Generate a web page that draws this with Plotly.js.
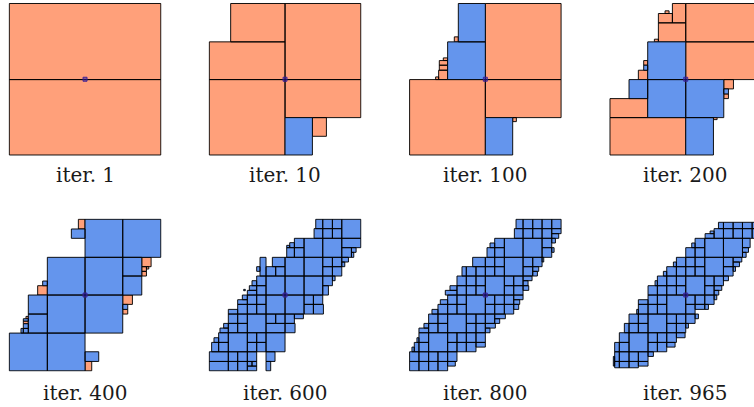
<!DOCTYPE html>
<html><head><meta charset="utf-8">
<script src="https://cdn.plot.ly/plotly-3.0.1.min.js"></script>
<style>html,body{margin:0;padding:0;background:#fff;}#chart{width:754px;height:407px;}</style>
</head><body><div id="chart"></div>
<script>
// Box data: [x0, x1, y0, y1] in picture units (panel = 0..454, y measured downward)
const iterations = [1, 10, 100, 200, 400, 600, 800, 965];
const centerPoint = [227, 227];

const p1_orange = [[0,454,0,228],[0,454,228,454]];
const p1_blue = [];

const p2_orange = [[227,454,0,228],[227,454,228,342],[64,227,0,115],[0,227,115,228],[0,227,228,454],[309,351,342,398]];
const p2_blue = [[227,309,342,454]];

const p3_orange = [[227,454,0,228],[227,454,228,342],[0,227,228,454],[309,320,342,354],[134,146,100,115],
  [87,114,200,228],[89,114,185,200],[89,114,171,185],[101,114,163,171],[78,87,220,228]];
const p3_blue = [[146,227,0,115],[114,227,115,228],[227,309,342,454]];

const p4_orange = [[227,454,0,115],[227,454,115,228],[187,227,0,58],[145,187,30,58],[165,177,22,30],[145,227,58,115],
  [133,145,107,115],[85,113,200,228],[101,113,171,185],[341,370,228,256],[341,355,271,285],[0,113,285,342],
  [0,227,342,454],[310,321,342,348]];
const p4_blue = [[113,227,115,228],[101,113,185,200],[57,113,228,285],[113,227,228,342],[227,341,228,342],
  [341,355,256,271],[227,310,342,454]];

const p5_orange = [[207,227,0,29],[397,425,114,142],[397,411,142,156],[411,418,142,149],[397,411,156,170],
  [85,114,199,227],[340,369,227,255],[340,355,270,284],[227,247,426,454],[50,57,291,298],[42,57,305,313]];
const p5_blue = [[227,340,0,114],[340,454,0,114],[186,227,29,57],[114,227,114,227],[227,340,114,227],
  [340,397,114,170],[340,397,170,227],[100,114,185,199],[57,114,227,284],[57,114,284,341],[114,227,227,341],
  [227,340,227,341],[340,355,255,270],[0,114,341,454],[114,227,341,454],[227,268,397,426],
  [42,57,298,305],[42,57,313,327],[35,42,327,341],[42,57,327,341]];

const p6_orange = [];
const p6_blue = [
  [397,454,0,57],[284,340,57,114],[340,397,57,114],[284,340,114,170],[227,284,114,170],
  [227,284,170,227],[170,227,170,227],[284,340,170,227],[227,284,227,284],[170,227,227,284],
  [114,170,284,340],[57,114,340,397],[170,227,340,397],
  [319,340,0,28],[340,369,0,28],[369,397,0,28],[314,340,28,57],[340,369,28,57],[369,397,28,57],
  [397,454,57,85],[397,426,85,114],[426,440,85,99],[426,433,99,114],
  [255,284,57,85],[255,284,85,114],[232,255,85,114],[241,255,70,85],[232,241,78,85],
  [340,369,114,142],[369,397,114,142],[340,369,142,170],[369,397,142,170],[397,417,114,128],[397,406,128,142],
  [189,227,114,142],[170,199,142,170],[199,227,142,170],[152,170,114,170],[142,152,142,156],
  [340,369,170,199],[340,357,199,227],[369,377,170,184],
  [142,170,170,199],[142,170,199,227],[128,142,184,199],[120,142,199,213],[114,142,213,227],
  [284,312,227,255],[312,340,227,255],[284,312,255,284],[312,342,255,284],
  [114,142,227,255],[142,170,227,255],[114,142,255,284],[142,170,255,284],[99,114,227,241],[85,114,241,255],
  [85,114,255,284],[57,85,270,284],[103,108,210,214],
  [170,199,284,312],[199,227,284,312],[170,227,312,340],[227,255,284,312],[255,282,284,298],[227,257,312,340],
  [85,114,284,312],[57,85,284,312],[85,114,312,340],[57,85,312,340],[43,57,312,326],[32,57,326,340],
  [114,142,340,369],[142,170,340,369],[114,142,369,397],[142,170,369,397],
  [28,57,340,369],[28,57,369,397],[14,28,355,369],[7,28,369,397],
  [0,57,397,426],[0,57,426,454],[57,85,397,426],[85,114,397,426],[57,85,426,454],[85,114,426,454],
  [114,142,397,426],[114,128,426,440],[128,142,426,440],[114,142,440,454],[170,197,397,426],[170,184,426,454]];

const p7_orange = [];
const p7_blue = [
  [284,340,57,114],[340,397,57,114],[284,340,114,170],[227,284,170,227],[170,227,227,284],[114,170,284,340],[57,114,340,397],
  [319,340,0,28],[340,369,0,28],[369,397,0,28],[397,426,0,28],[426,454,0,28],
  [314,340,28,57],[340,369,28,57],[369,397,28,57],[397,426,28,57],[426,454,28,43],[426,447,43,57],
  [397,426,57,85],[426,437,57,71],[397,426,85,114],[426,433,85,99],
  [255,284,57,85],[255,284,85,114],[232,255,85,114],[241,255,71,85],
  [227,255,114,142],[255,284,114,142],[227,255,142,170],[255,284,142,170],
  [189,227,114,142],[170,199,142,170],[199,227,142,170],[157,170,142,170],
  [340,369,114,142],[369,397,114,142],[397,402,114,128],[340,369,142,170],[369,387,142,156],[369,383,156,170],
  [284,312,170,199],[312,340,170,199],[340,367,170,184],[340,355,184,199],[284,312,199,227],[312,340,199,227],[340,357,199,213],
  [170,199,170,199],[199,227,170,199],[170,199,199,227],[199,227,199,227],
  [142,170,170,199],[142,170,199,227],[121,142,199,213],[107,142,213,227],
  [227,255,227,255],[255,284,227,255],[227,255,255,284],[255,284,255,284],
  [284,312,227,255],[312,340,227,241],[312,330,241,255],[284,312,255,284],[312,327,255,270],
  [142,170,227,255],[114,142,227,255],[142,170,255,284],[114,142,255,284],[92,114,241,255],[85,114,255,284],[67,85,270,284],
  [170,199,284,312],[199,227,284,312],[170,199,312,340],[199,227,312,340],
  [227,255,284,312],[255,287,284,298],[255,270,298,312],[227,257,312,326],[227,241,326,340],
  [85,114,284,312],[57,85,284,312],[85,114,312,340],[57,85,312,340],[43,57,312,326],[28,57,326,340],
  [114,142,340,369],[142,170,340,369],[114,142,369,397],[142,170,369,397],
  [170,199,340,369],[199,227,340,369],[170,199,369,397],[199,227,369,383],
  [28,57,340,369],[22,28,355,369],[28,57,369,397],[14,28,369,397],[7,14,383,397],
  [0,28,397,426],[28,57,397,426],[57,85,397,426],[85,114,397,426],[114,142,397,426],
  [0,28,426,454],[28,57,426,454],[57,85,426,454],[85,114,426,454],[114,137,426,440]];

const p8_orange = [];
const p8_blue = [
  [284,340,57,114],[340,397,57,114],[284,340,114,170],[227,284,170,227],[170,227,227,284],[114,170,284,340],[57,114,340,397],
  [325,340,9,28],[340,369,9,28],[369,397,9,28],[397,426,9,28],[426,454,9,28],
  [300,312,35,43],[285,312,43,57],[312,340,28,57],[340,369,28,57],[369,397,28,57],[397,426,28,57],[426,454,28,57],
  [397,420,57,85],[397,415,85,99],[397,408,99,114],
  [255,284,57,85],[245,255,71,85],[255,284,85,114],[227,255,85,114],
  [227,255,114,142],[255,284,114,142],[227,255,142,170],[255,284,142,170],
  [199,227,114,142],[190,199,128,142],[170,199,142,170],[199,227,142,170],[160,170,156,170],
  [340,369,114,142],[369,395,114,128],[369,388,128,142],[340,369,142,170],[369,376,142,156],
  [284,312,170,199],[312,340,170,199],[340,355,170,184],[284,312,199,227],[312,335,199,213],[312,326,213,227],
  [170,199,170,199],[199,227,170,199],[170,199,199,227],[199,227,199,227],
  [142,170,170,199],[135,142,184,199],[114,142,199,227],[142,170,199,227],
  [227,255,227,255],[255,284,227,255],[227,255,255,284],[255,284,255,270],
  [284,312,227,255],[312,320,227,241],[284,295,255,270],
  [142,170,227,255],[114,142,227,255],[85,114,241,255],[142,170,255,284],[114,142,255,284],[85,114,255,284],[80,85,270,284],
  [170,199,284,312],[199,227,284,312],[227,255,284,312],[255,265,284,298],[170,199,312,340],[199,227,312,340],[227,235,312,326],
  [85,114,284,312],[57,85,284,312],[85,114,312,340],[57,85,312,340],[43,57,312,340],
  [114,142,340,369],[142,170,340,369],[170,199,340,369],[199,225,340,355],[114,142,369,397],[142,170,369,397],[170,195,369,383],
  [28,57,340,369],[28,57,369,397],[14,28,369,397],
  [14,28,397,426],[28,57,397,426],[57,85,397,426],[85,114,397,426],[114,130,397,411],
  [14,28,426,445],[28,57,426,445],[57,85,426,445],[85,114,426,440],[10,14,411,440]];

const orangeSets = [p1_orange,p2_orange,p3_orange,p4_orange,p5_orange,p6_orange,p7_orange,p8_orange];
const blueSets = [p1_blue,p2_blue,p3_blue,p4_blue,p5_blue,p6_blue,p7_blue,p8_blue];

const W = 754, H = 407;
const colLeft = [9.3, 209.3, 409.6, 610.0];   // pixel where unit 0 falls
const rowTop = [3.5, 219.3];
const labelY = [175, 393];
const UPP = 2.997; // units per pixel
const PAD = 3;

function poly(boxes) {
  const x = [], y = [];
  boxes.forEach(b => {
    x.push(b[0], b[1], b[1], b[0], b[0], null);
    y.push(b[2], b[2], b[3], b[3], b[2], null);
  });
  return {x, y};
}

const data = [];
const layout = {
  width: W, height: H, margin: {l:0, r:0, t:0, b:0},
  paper_bgcolor: '#fff', plot_bgcolor: 'rgba(0,0,0,0)', showlegend: false,
  annotations: []
};

iterations.forEach((it, i) => {
  const row = i < 4 ? 0 : 1, col = i % 4;
  const suffix = i === 0 ? '' : String(i + 1);
  const xa = 'x' + suffix, ya = 'y' + suffix;
  const pxL = colLeft[col] - PAD / UPP;
  let pxR = colLeft[col] + (454 + PAD) / UPP;
  let xmax = 454 + PAD;
  if (pxR > W) { xmax = -PAD + (W - pxL) * UPP; pxR = W; }
  const pyT = rowTop[row] - PAD / UPP;
  const pyB = rowTop[row] + (454 + PAD) / UPP;

  layout['xaxis' + suffix] = {domain: [pxL / W, pxR / W], range: [-PAD, xmax], showgrid: false, zeroline: false,
    showticklabels: false, ticks: '', showline: false, fixedrange: true, anchor: ya};
  layout['yaxis' + suffix] = {domain: [1 - pyB / H, 1 - pyT / H], range: [454 + PAD, -PAD], showgrid: false, zeroline: false,
    showticklabels: false, ticks: '', showline: false, fixedrange: true, anchor: xa};

  [[orangeSets[i], '#FFA07A'], [blueSets[i], '#6495ED']].forEach(([set, color]) => {
    if (!set.length) return;
    const p = poly(set);
    data.push({type: 'scatter', mode: 'lines', x: p.x, y: p.y, xaxis: xa, yaxis: ya, fill: 'toself',
      fillcolor: color, line: {color: 'rgba(0,0,0,0.92)', width: 1}, hoverinfo: 'skip'});
  });
  data.push({type: 'scatter', mode: 'markers', x: [centerPoint[0]], y: [centerPoint[1]], xaxis: xa, yaxis: ya,
    marker: {symbol: 'square', size: 4, color: 'rgba(40,30,160,0.55)', line: {color: 'rgba(60,30,150,0.9)', width: 1}},
    hoverinfo: 'skip'});

  layout.annotations.push({text: 'iter. ' + it, xref: 'paper', yref: 'paper',
    x: (colLeft[col] + 75.7) / W, y: 1 - labelY[row] / H, xanchor: 'center', yanchor: 'middle',
    showarrow: false, font: {family: 'DejaVu Serif', size: 20, color: '#1a1a1a'}});
});

Plotly.newPlot('chart', data, layout, {staticPlot: true, displayModeBar: false});
</script></body></html>
